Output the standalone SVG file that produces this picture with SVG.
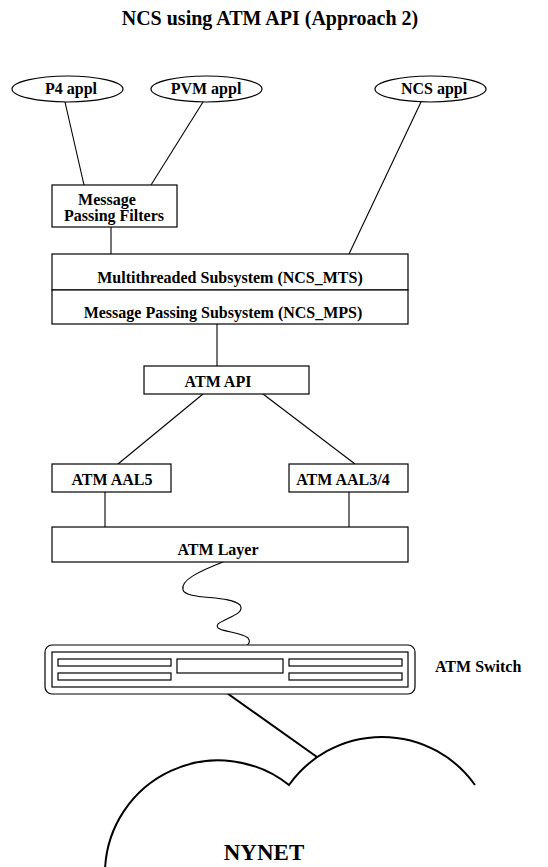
<svg xmlns="http://www.w3.org/2000/svg" width="548" height="867" viewBox="0 0 548 867">
  <style>
    text { font-family: "Liberation Serif", "Times New Roman", serif; font-weight: bold; fill: #000; }
    .lbl { font-size: 16px; }
    .box { fill: #fff; stroke: #000; stroke-width: 1.2; }
    .wire { fill: none; stroke: #000; stroke-width: 1.1; }
    .heavy { fill: none; stroke: #000; stroke-width: 2; }
  </style>
  <rect width="548" height="867" fill="#fff"/>

  <text x="270" y="25" font-size="20" text-anchor="middle">NCS using ATM API (Approach 2)</text>

  <!-- connectors -->
  <g id="connectors">
    <line class="wire" x1="65" y1="102" x2="84" y2="185"/>
    <line class="wire" x1="203" y1="102" x2="151" y2="185"/>
    <line class="wire" x1="421" y1="102" x2="349" y2="254"/>
    <line class="wire" x1="111" y1="227" x2="111" y2="254"/>
    <line class="wire" x1="217" y1="324" x2="217" y2="366"/>
    <line class="wire" x1="203" y1="394" x2="118" y2="464"/>
    <line class="wire" x1="263" y1="394" x2="355" y2="464"/>
    <line class="wire" x1="105" y1="492" x2="105" y2="527"/>
    <line class="wire" x1="349" y1="492" x2="349" y2="527"/>
    <path class="wire" d="M223,562 C200,571 180,580 183,590 C186,600 230,595 240,605 C246,614 225,618 218,624 C212,632 240,631 248,638 C254,646 238,650 230,652"/>
    <line class="heavy" x1="217" y1="686" x2="317" y2="757"/>
  </g>

  <g id="p4-appl">
    <ellipse class="box" cx="67.5" cy="89" rx="55.5" ry="13"/>
    <text class="lbl" x="71" y="94" text-anchor="middle">P4 appl</text>
  </g>
  <g id="pvm-appl">
    <ellipse class="box" cx="206.5" cy="89" rx="55.5" ry="13"/>
    <text class="lbl" x="206" y="94" text-anchor="middle">PVM appl</text>
  </g>
  <g id="ncs-appl">
    <ellipse class="box" cx="430.5" cy="89" rx="55.5" ry="13"/>
    <text class="lbl" x="434" y="94" text-anchor="middle">NCS appl</text>
  </g>

  <g id="mp-filters">
    <rect class="box" x="52" y="185" width="125" height="42"/>
    <text class="lbl" x="107" y="205" text-anchor="middle">Message</text>
    <text class="lbl" x="114" y="221" text-anchor="middle">Passing Filters</text>
  </g>

  <g id="ncs-mts">
    <rect class="box" x="52" y="254" width="356" height="36"/>
    <text class="lbl" x="230" y="283" text-anchor="middle">Multithreaded Subsystem (NCS_MTS)</text>
  </g>
  <g id="ncs-mps">
    <rect class="box" x="52" y="290" width="356" height="34"/>
    <text class="lbl" x="223" y="318" text-anchor="middle">Message Passing Subsystem (NCS_MPS)</text>
  </g>

  <g id="atm-api">
    <rect class="box" x="144" y="366" width="165" height="28"/>
    <text class="lbl" x="218" y="387" text-anchor="middle">ATM API</text>
  </g>

  <g id="atm-aal5">
    <rect class="box" x="52" y="464" width="119" height="28"/>
    <text class="lbl" x="112" y="485" text-anchor="middle">ATM AAL5</text>
  </g>
  <g id="atm-aal34">
    <rect class="box" x="289" y="464" width="119" height="28"/>
    <text class="lbl" x="343" y="485" text-anchor="middle">ATM AAL3/4</text>
  </g>

  <g id="atm-layer">
    <rect class="box" x="52" y="527" width="356" height="35"/>
    <text class="lbl" x="218" y="555" text-anchor="middle">ATM Layer</text>
  </g>

  <g id="atm-switch">
    <rect class="box" x="45" y="645" width="370" height="49" rx="7"/>
    <rect class="box" x="52" y="652" width="356" height="35"/>
    <rect class="box" x="58" y="659" width="113" height="7"/>
    <rect class="box" x="58" y="673" width="113" height="7"/>
    <rect class="box" x="177" y="659" width="106" height="14"/>
    <rect class="box" x="289" y="659" width="113" height="7"/>
    <rect class="box" x="289" y="673" width="113" height="7"/>
    <text class="lbl" x="435" y="672">ATM Switch</text>
  </g>

  <g id="nynet">
    <path class="heavy" d="M105,870 A113.5,113.5 0 0 1 289,785 A114,114 0 0 1 475,785"/>
    <text x="264" y="860" font-size="23" text-anchor="middle">NYNET</text>
  </g>
</svg>
